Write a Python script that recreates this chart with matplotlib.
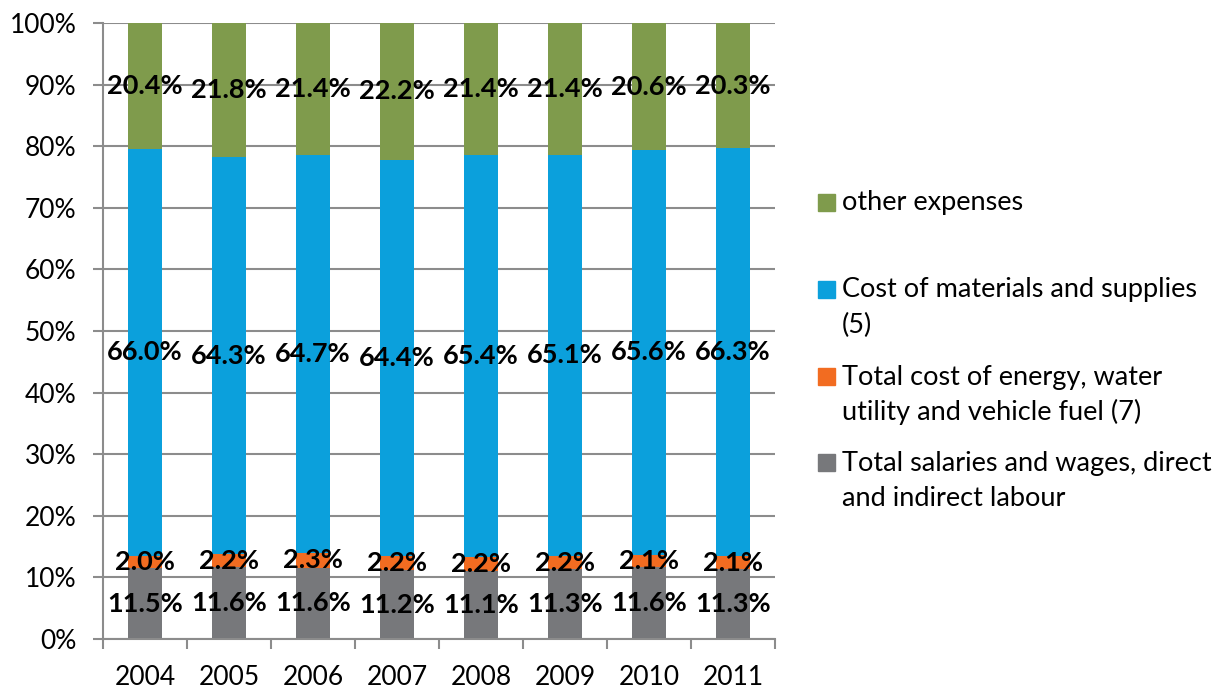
import matplotlib
matplotlib.use("Agg")
import matplotlib.pyplot as plt
import numpy as np
from matplotlib.patches import Rectangle

years = ["2004", "2005", "2006", "2007", "2008", "2009", "2010", "2011"]
salaries = [11.5, 11.6, 11.6, 11.2, 11.1, 11.3, 11.6, 11.3]
energy = [2.0, 2.2, 2.3, 2.2, 2.2, 2.2, 2.1, 2.1]
materials = [66.0, 64.3, 64.7, 64.4, 65.4, 65.1, 65.6, 66.3]
other = [20.4, 21.8, 21.4, 22.2, 21.4, 21.4, 20.6, 20.3]

series = [salaries, energy, materials, other]
names = ["Total salaries and wages, direct\nand indirect labour",
         "Total cost of energy, water\nutility and vehicle fuel (7)",
         "Cost of materials and supplies\n(5)",
         "other expenses"]
colors = ["#77787B", "#F26C21", "#0BA0DC", "#7F9B4C"]

plt.rcParams["font.family"] = ["Lato", "DejaVu Sans"]

fig = plt.figure(figsize=(12.22, 6.9), dpi=100)
ax = fig.add_axes([103 / 1222, 51 / 690, 672 / 1222, 616 / 690])

x = np.arange(len(years))
totals = np.sum(series, axis=0)
bottom = np.zeros(len(years))
for vals, c in zip(series, colors):
    h = np.array(vals) / totals * 100
    bars = ax.bar(x, h, 0.4, bottom=bottom, color=c, zorder=2)
    ax.bar_label(bars, labels=[f"{v:.1f}%" for v in vals], label_type="center",
                 fontsize=19.5, fontweight="bold", color="black", zorder=3)
    bottom += h

ax.set_xlim(-0.5, len(years) - 0.5)
ax.set_ylim(0, 100)
ax.set_yticks(np.arange(0, 101, 10))
ax.set_yticklabels([f"{v}%" for v in range(0, 101, 10)])
ax.set_xticks(x)
ax.set_xticklabels(years)
ax.set_xticks(np.arange(-0.5, len(years)), minor=True)

grid_c = "#8C8C8C"
ax.yaxis.grid(True, color=grid_c, linewidth=1.5, zorder=0)
ax.set_axisbelow(True)
for s in ["top", "right"]:
    ax.spines[s].set_visible(False)
for s in ["left", "bottom"]:
    ax.spines[s].set_color(grid_c)
    ax.spines[s].set_linewidth(1.5)

ax.tick_params(axis="y", length=7, width=1.5, color=grid_c, pad=12, labelsize=19)
ax.tick_params(axis="x", which="major", length=0, pad=19, labelsize=19)
ax.tick_params(axis="x", which="minor", length=7, width=1.5, color=grid_c)

# legend, drawn by hand to match the spacing
leg_y = [463, 377, 290, 203]
line_h = 35
for name, c, y0 in zip(names, colors, leg_y):
    fig.patches.append(Rectangle((818 / 1222, 1 - (y0 + 8) / 690), 17 / 1222, 17 / 690,
                                 transform=fig.transFigure, color=c, figure=fig))
    for i, line in enumerate(name.split("\n")):
        fig.text(842 / 1222, 1 - (y0 + i * line_h) / 690, line, fontsize=19.5,
                 va="center", ha="left")

fig.savefig("out.png", dpi=100)
